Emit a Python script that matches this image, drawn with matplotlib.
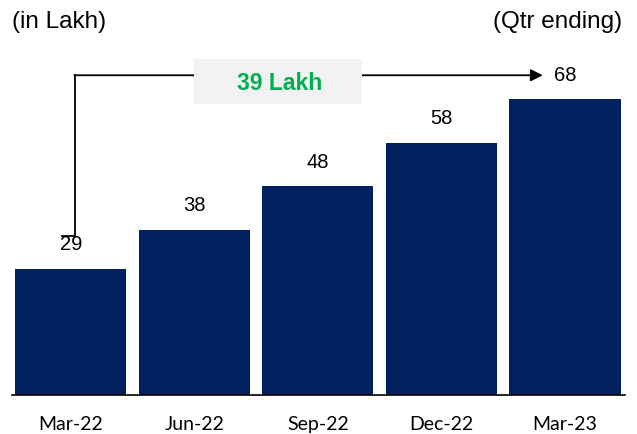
import matplotlib.pyplot as plt
from matplotlib.patches import Rectangle

quarters = ['Mar-22', 'Jun-22', 'Sep-22', 'Dec-22', 'Mar-23']
values = [29, 38, 48, 58, 68]
growth_label = '39 Lakh'

navy = '#002060'
green = '#00b050'

fig = plt.figure(figsize=(6.37, 4.34), dpi=100)
ax = fig.add_axes([12/637, 39/434, 613/637, 395/434])

x = range(len(quarters))
ax.bar(x, values, width=0.9, color=navy, zorder=2)
ax.set_xlim(-0.475, 4.485)
ax.set_ylim(0, 90.8)

for s in ['top', 'left', 'right']:
    ax.spines[s].set_visible(False)
ax.spines['bottom'].set_linewidth(1.2)
ax.set_yticks([])
ax.set_xticks(list(x))
ax.set_xticklabels(quarters, family='Lato', fontsize=14)
ax.tick_params(axis='x', length=0, pad=15)

# data labels (last one sits at the arrow tip)
for i, v in enumerate(values[:-1]):
    ax.text(i, v + 5.5, str(v), ha='center', va='center',
            family='Liberation Sans', fontsize=14.5)
ax.text(4.0, values[-1] + 5.4, str(values[-1]), ha='center', va='center',
        family='Liberation Sans', fontsize=14.5)

# growth bracket
ytop = 73.5
ax.plot([-0.073, 0.035, 0.035], [36.6, 36.6, ytop], color='k', lw=1.3, zorder=3)
ax.annotate('', xy=(3.82, ytop), xytext=(0.03, ytop),
            arrowprops=dict(arrowstyle='-|>', color='k', lw=1.3, mutation_scale=18,
                            shrinkA=0, shrinkB=0), zorder=3)
ax.add_patch(Rectangle((1.0, 66.9), 1.36, 10.3, facecolor='#f2f2f2',
                       edgecolor='none', zorder=4))
ax.text(1.69, 71.7, growth_label, ha='center', va='center', color=green,
        family='Liberation Sans', fontweight='bold', fontsize=16.5, zorder=5)

fig.text(12/637, 1 - 22/434, '(in Lakh)', ha='left', va='center',
         family='Liberation Sans', fontsize=17.5)
fig.text(622/637, 1 - 22/434, '(Qtr ending)', ha='right', va='center',
         family='Liberation Sans', fontsize=17.5)

fig.savefig('out.png', dpi=100)
